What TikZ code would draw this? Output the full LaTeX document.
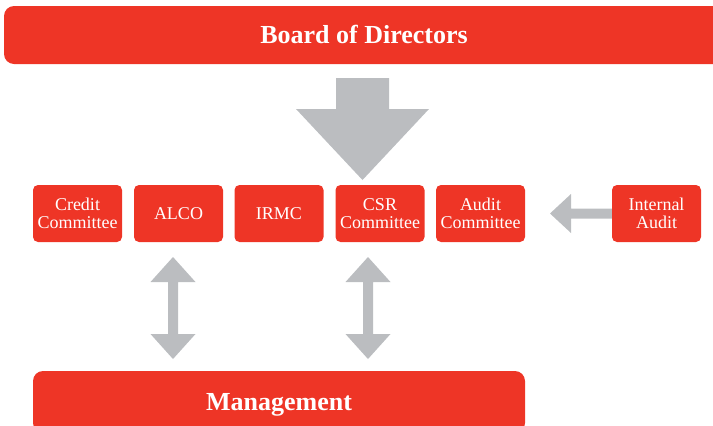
\documentclass[tikz,border=0pt]{standalone}
\usepackage{fontspec}
\setmainfont{Liberation Serif}
\definecolor{orgred}{HTML}{EE3526}
\definecolor{arrowgray}{HTML}{BBBDC0}
\begin{document}
\begin{tikzpicture}[x=1pt,y=-1pt]
  \tikzstyle{banner} = [rectangle, rounded corners=10pt, fill=orgred, text=white, font=\fontsize{26}{28}\selectfont\bfseries, minimum height=58pt, inner sep=0pt, text height=17.5pt, text depth=0pt]
  \tikzstyle{committee} = [rectangle, rounded corners=5pt, fill=orgred, text=white, align=center, font=\fontsize{18}{18.5}\selectfont, minimum width=89pt, minimum height=57pt, inner sep=0pt]
  \tikzstyle{blockarrow} = [fill=arrowgray]

  \useasboundingbox (0,0) rectangle (713,426);
  \clip (0,0) rectangle (713,426);

  % Top and bottom
  \node [banner, minimum width=720pt] (board) at (364,35) {Board of Directors};
  \node [banner, minimum width=492pt, minimum height=62pt] (mgmt) at (279,402) {Management};

  % Committees
  \node [committee] (credit) at (77.5,213.5) {Credit\\Committee};
  \node [committee] (alco) at (178.5,213.5) {ALCO};
  \node [committee] (irmc) at (279,213.5) {IRMC};
  \node [committee] (csr) at (380,213.5) {CSR\\Committee};
  \node [committee] (audit) at (480.5,213.5) {Audit\\Committee};
  \node [committee] (intaudit) at (656.5,213.5) {Internal\\Audit};

  % Board arrow
  \fill [blockarrow] (336,78) -- (389,78) -- (389,109) -- (429,109) -- (362.5,180) -- (296,109) -- (336,109) -- cycle;

  % Internal audit arrow
  \fill [blockarrow] (intaudit.west |- 0,208.5) -- (571,208.5) -- (571,194) -- (550,213.5) -- (571,233) -- (571,218.5) -- (intaudit.west |- 0,218.5) -- cycle;

  % Management arrows
  \fill [blockarrow] (173,257) -- (195.5,282) -- (178,282) -- (178,334) -- (195.5,334) -- (173,359) -- (150.5,334) -- (168,334) -- (168,282) -- (150.5,282) -- cycle;
  \fill [blockarrow] (368,257) -- (390.5,282) -- (373,282) -- (373,334) -- (390.5,334) -- (368,359) -- (345.5,334) -- (363,334) -- (363,282) -- (345.5,282) -- cycle;
\end{tikzpicture}
\end{document}
